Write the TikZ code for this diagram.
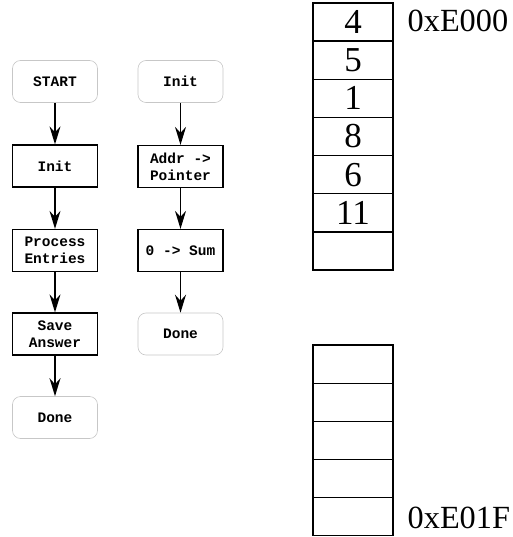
\documentclass[tikz,border=0pt]{standalone}
\usepackage{fontspec}
\setmainfont{Liberation Serif}
\newfontfamily\flowfont{Liberation Mono}
\usetikzlibrary{arrows.meta}
\begin{document}
\begin{tikzpicture}[x=1pt,y=-1pt,
  term/.style={draw=black!22, line width=0.6pt, rounded corners=8pt, minimum width=85pt, minimum height=42pt, inner sep=0pt, align=center, font=\flowfont\bfseries\fontsize{14.5}{17}\selectfont},
  proc/.style={draw=black, line width=1.3pt, minimum width=85pt, minimum height=42pt, inner sep=0pt, align=center, font=\flowfont\bfseries\fontsize{14.5}{17}\selectfont},
  flow/.style={line width=1.4pt, -{Stealth[length=18pt, width=11pt, inset=6pt]}, shorten >=0pt},
  cell/.style={draw=black, line width=1.3pt, minimum width=80pt, minimum height=38.15pt, inner sep=0pt, font=\fontsize{35}{35}\selectfont},
  addr/.style={anchor=base west, inner sep=0pt, font=\fontsize{32.3}{32.3}\selectfont}
]
\useasboundingbox (0,0) rectangle (512,537);
% left flow
\node[term] (start) at (55,81.5) {START};
\node[proc] (init) at (55,166) {Init};
\node[proc] (proc) at (55,250.5) {Process\\Entries};
\node[proc] (save) at (55,334) {Save\\Answer};
\node[term] (done) at (55,417.5) {Done};
\draw[flow] (start) -- (init);
\draw[flow] (init) -- (proc);
\draw[flow] (proc) -- (save);
\draw[flow] (save) -- (done);
% right flow
\node[term] (rinit) at (180.5,81.5) {Init};
\node[proc] (addr) at (180.5,166.5) {Addr ->\\Pointer};
\node[proc] (sum) at (180.5,250.5) {0 -> Sum};
\node[term] (rdone) at (180.5,334) {Done};
\draw[flow] (rinit) -- (addr);
\draw[flow] (addr) -- (sum);
\draw[flow] (sum) -- (rdone);
% memory top
\node[cell] (m0) at (353,22.1) {4};
\node[cell] (m1) at (353,60.2) {5};
\node[cell] (m2) at (353,98.4) {1};
\node[cell] (m3) at (353,136.5) {8};
\node[cell] (m4) at (353,174.7) {6};
\node[cell] (m5) at (353,212.8) {11};
\node[cell] (m6) at (353,251) {};
% memory bottom
\node[cell] (b0) at (353,364.1) {};
\node[cell] (b1) at (353,402.3) {};
\node[cell] (b2) at (353,440.4) {};
\node[cell] (b3) at (353,478.6) {};
\node[cell] (b4) at (353,516.7) {};
\node[addr] (a0) at (407.5,31.5) {0xE000};
\node[addr] (a1) at (407.5,528.5) {0xE01F};
\end{tikzpicture}
\end{document}
